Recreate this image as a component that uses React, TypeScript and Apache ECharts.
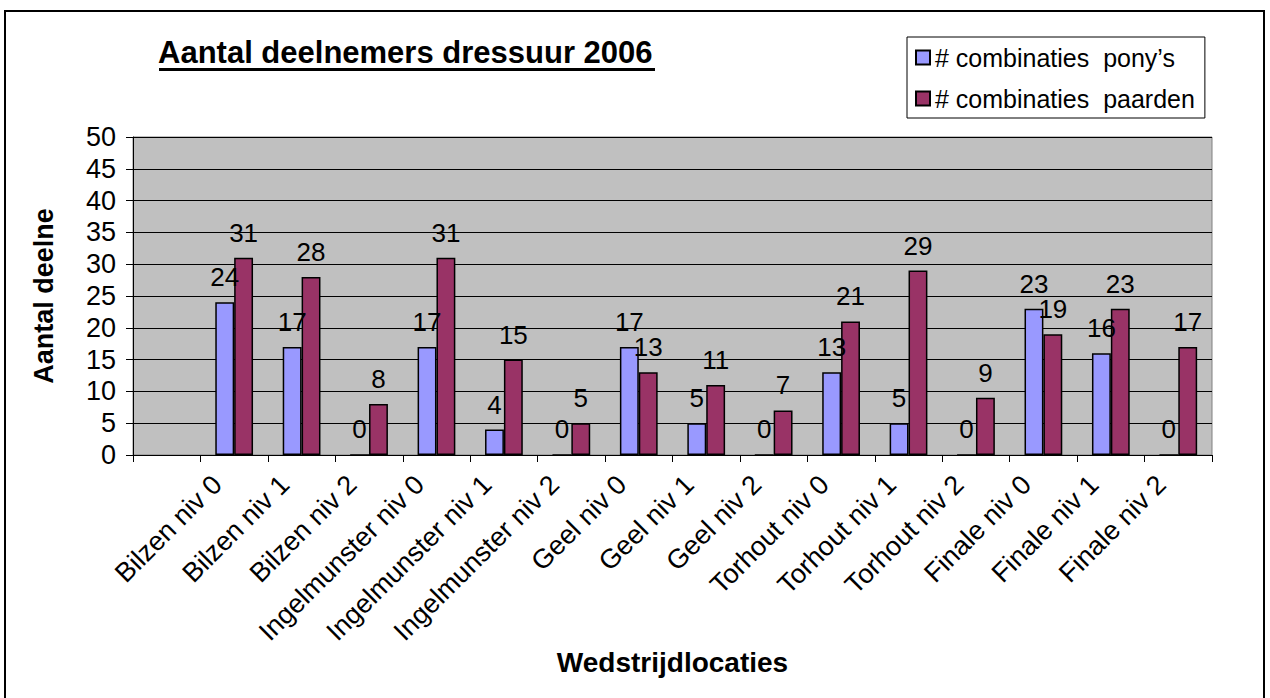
import React, { useEffect, useRef } from "react";
import * as echarts from "echarts";

const categories = [
  "",
  "Bilzen niv 0",
  "Bilzen niv 1",
  "Bilzen niv 2",
  "Ingelmunster niv 0",
  "Ingelmunster niv 1",
  "Ingelmunster niv 2",
  "Geel niv 0",
  "Geel niv 1",
  "Geel niv 2",
  "Torhout niv 0",
  "Torhout niv 1",
  "Torhout niv 2",
  "Finale niv 0",
  "Finale niv 1",
  "Finale niv 2",
];
const ponyValues: (number | string)[] = ["-", 24, 17, 0, 17, 4, 0, 17, 5, 0, 13, 5, 0, 23, 16, 0];
const paardenValues: (number | string)[] = ["-", 31, 28, 8, 31, 15, 5, 13, 11, 7, 21, 29, 9, 19, 23, 17];
const seriesNames = ["# combinaties  pony\u2019s", "# combinaties  paarden"];
const titleText = "Aantal deelnemers dressuur 2006";
const yAxisTitle = "Aantal deelne";
const xAxisTitle = "Wedstrijdlocaties";

const FONT = "'Liberation Sans', Arial, sans-serif";

export default function App() {
  const ref = useRef<HTMLDivElement>(null);
  useEffect(() => {
    document.body.style.margin = "0";
    const chart = echarts.init(ref.current!, null, { renderer: "svg" });
    const labelCfg = {
      show: true,
      position: "top",
      distance: 12,
      fontSize: 26,
      color: "#000",
      fontFamily: FONT,
    };
    chart.setOption({
      animation: false,
      backgroundColor: "#fff",
      textStyle: { fontFamily: FONT },
      title: {
        text: titleText,
        left: 158,
        top: 37,
        padding: 0,
        textStyle: { fontSize: 31, fontWeight: "bold", color: "#000", fontFamily: FONT },
      },
      legend: {
        orient: "vertical",
        left: 907,
        top: 37,
        itemWidth: 14,
        itemHeight: 14,
        itemGap: 16,
        icon: "rect",
        borderColor: "#000",
        borderWidth: 1,
        padding: [8, 10, 7, 8],
        textStyle: { fontSize: 25, color: "#000", fontFamily: FONT },
      },
      grid: {
        left: 133,
        right: 58,
        top: 137,
        bottom: 243,
        show: true,
        backgroundColor: "#C0C0C0",
        borderColor: "#808080",
        borderWidth: 1,
      },
      xAxis: {
        type: "category",
        data: categories,
        name: xAxisTitle,
        nameLocation: "middle",
        nameGap: 193,
        nameTextStyle: { fontSize: 28, fontWeight: "bold", color: "#000", fontFamily: FONT },
        axisLine: { show: true, lineStyle: { color: "#000" } },
        axisTick: { show: true, length: 7, lineStyle: { color: "#000" } },
        axisLabel: {
          rotate: 45,
          interval: 0,
          fontSize: 27,
          color: "#000",
          margin: 8,
          padding: [0, 24, 0, 0],
          fontFamily: FONT,
        },
      },
      yAxis: {
        type: "value",
        min: 0,
        max: 50,
        interval: 5,
        name: yAxisTitle,
        nameLocation: "middle",
        nameGap: 76,
        nameTextStyle: { fontSize: 27, fontWeight: "bold", color: "#000", fontFamily: FONT },
        axisLine: { show: true, lineStyle: { color: "#000" } },
        axisTick: { show: true, length: 7, lineStyle: { color: "#000" } },
        axisLabel: { fontSize: 27, color: "#000", margin: 17, fontFamily: FONT },
        splitLine: { show: true, lineStyle: { color: "#000", width: 1 } },
      },
      series: [
        {
          name: seriesNames[0],
          type: "bar",
          data: ponyValues,
          barGap: "0%",
          barCategoryGap: "44%",
          itemStyle: { color: "#9999FF", borderColor: "#000", borderWidth: 1.5 },
          label: labelCfg,
        },
        {
          name: seriesNames[1],
          type: "bar",
          data: paardenValues,
          barGap: "0%",
          barCategoryGap: "44%",
          itemStyle: { color: "#993366", borderColor: "#000", borderWidth: 1.5 },
          label: labelCfg,
        },
      ],
      graphic: [
        {
          type: "rect",
          shape: { x: 5, y: 11, width: 1259, height: 700 },
          style: { fill: "none", stroke: "#000", lineWidth: 2 },
          silent: true,
        },
        {
          type: "rect",
          shape: { x: 159, y: 68, width: 496, height: 3 },
          style: { fill: "#000" },
          silent: true,
        },
      ],
    });
    return () => chart.dispose();
  }, []);
  return <div ref={ref} style={{ width: 1270, height: 698 }} />;
}
